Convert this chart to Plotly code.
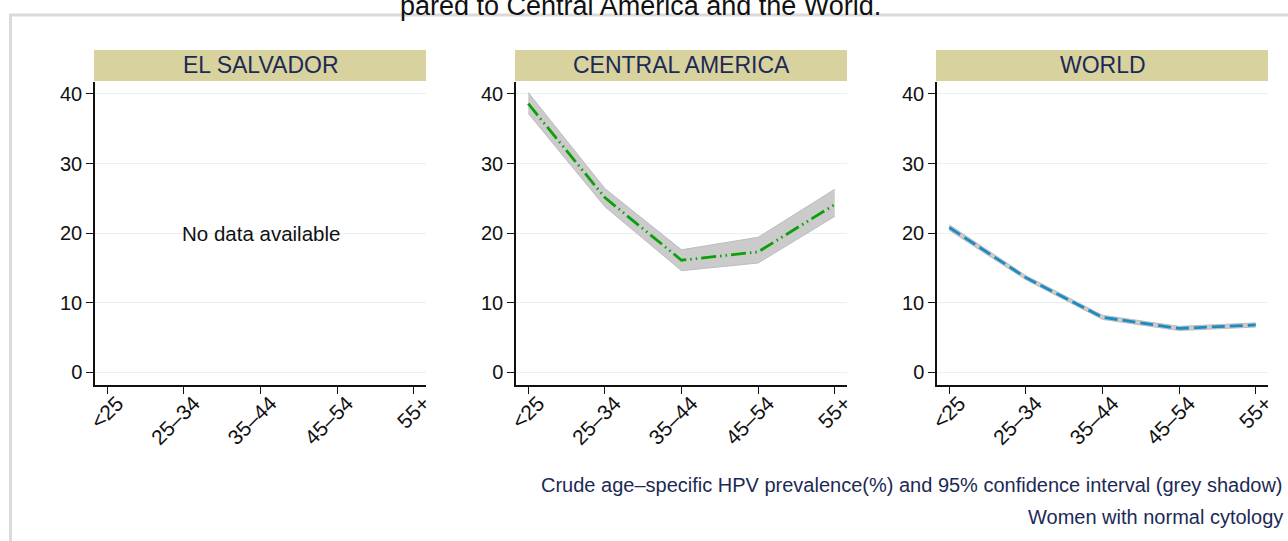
import plotly.graph_objects as go

W, H = 1288, 541

age_groups = ["<25", "25–34", "35–44", "45–54", "55+"]
x_pos = [0, 1, 2, 3, 4]

panel_titles = ["EL SALVADOR", "CENTRAL AMERICA", "WORLD"]

el_salvador = [None, None, None, None, None]

central_america = [38.6, 25.1, 16.1, 17.3, 24.1]
central_america_lo = [37.2, 23.8, 14.6, 15.7, 22.4]
central_america_hi = [40.2, 26.4, 17.6, 19.4, 26.3]

world = [20.8, 13.6, 7.9, 6.3, 6.8]
world_lo = [20.4, 13.3, 7.6, 6.0, 6.5]
world_hi = [21.2, 13.9, 8.2, 6.6, 7.1]

y_ticks = [0, 10, 20, 30, 40]

footnote_1 = "Crude age–specific HPV prevalence(%) and 95% confidence interval (grey shadow)"
footnote_2 = "Women with normal cytology"
title_text = "pared to Central America and the World."

FONT = "Liberation Sans, Arial, sans-serif"
NAVY = "#1c2a55"
HEADER = "#d8d29e"
GRID = "#e8f0f2"
BAND = "#cbcbcb"
BAND_EDGE = "#bdbdbd"


def px_x(p):
    return p / W


def px_y(p):
    return 1 - p / H


# panel pixel extents
panels_px = [(95, 426), (516, 847), (937, 1268)]
y_top_px, y_bot_px = 82, 385

fig = go.Figure()

# Panel 1 (empty)
fig.add_trace(go.Scatter(x=x_pos, y=el_salvador, mode="lines", xaxis="x", yaxis="y",
                         showlegend=False, hoverinfo="skip"))

# Panel 2 band + line
fig.add_trace(go.Scatter(x=x_pos, y=central_america_lo, mode="lines", xaxis="x2", yaxis="y2",
                         line=dict(color=BAND_EDGE, width=1), showlegend=False, hoverinfo="skip"))
fig.add_trace(go.Scatter(x=x_pos, y=central_america_hi, mode="lines", xaxis="x2", yaxis="y2",
                         fill="tonexty", fillcolor=BAND,
                         line=dict(color=BAND_EDGE, width=1), showlegend=False, hoverinfo="skip"))
fig.add_trace(go.Scatter(x=x_pos, y=central_america, mode="lines", xaxis="x2", yaxis="y2",
                         line=dict(color="#0aa00a", width=2.8, dash="15px,4px,1.5px,4px,1.5px,4px"),
                         showlegend=False))

# Panel 3 band + line
fig.add_trace(go.Scatter(x=x_pos, y=world_lo, mode="lines", xaxis="x3", yaxis="y3",
                         line=dict(color=BAND_EDGE, width=1), showlegend=False, hoverinfo="skip"))
fig.add_trace(go.Scatter(x=x_pos, y=world_hi, mode="lines", xaxis="x3", yaxis="y3",
                         fill="tonexty", fillcolor=BAND,
                         line=dict(color=BAND_EDGE, width=1), showlegend=False, hoverinfo="skip"))
fig.add_trace(go.Scatter(x=x_pos, y=world, mode="lines", xaxis="x3", yaxis="y3",
                         line=dict(color="#1a8cc4", width=2.8, dash="13px,5px"),
                         showlegend=False))

y_lo = -(y_bot_px - 372.3) / 6.96
y_hi = (372.3 - y_top_px) / 6.96

xtick_font = dict(family=FONT, size=21, color="#111111")
ytick_font = dict(family=FONT, size=20, color="#111111")

layout_axes = {}
for i, (x0, x1) in enumerate(panels_px):
    sfx = "" if i == 0 else str(i + 1)
    layout_axes["xaxis" + sfx] = dict(
        domain=[px_x(x0), px_x(x1)], range=[-0.16, 4.16], anchor="y" + sfx,
        tickmode="array", tickvals=x_pos, ticktext=age_groups, tickangle=-45,
        ticks="outside", ticklen=7, tickwidth=1.3, tickcolor="#111111",
        showline=True, linecolor="#111111", linewidth=1.5, showgrid=False,
        zeroline=False, tickfont=xtick_font, fixedrange=True, automargin=False,
        ticklabelshift=10, ticklabelstandoff=-11,
    )
    layout_axes["yaxis" + sfx] = dict(
        domain=[px_y(y_bot_px), px_y(y_top_px)], range=[y_lo, y_hi], anchor="x" + sfx,
        tickmode="array", tickvals=y_ticks, ticks="outside", ticklen=7, tickwidth=1.3,
        tickcolor="#111111", showline=True, linecolor="#111111", linewidth=1.5,
        showgrid=True, gridcolor=GRID, gridwidth=1, zeroline=False, tickfont=ytick_font,
        fixedrange=True, automargin=False,
    )

shapes = [
    # outer frame
    dict(type="rect", xref="paper", yref="paper", x0=px_x(10.5), x1=px_x(1300),
         y0=px_y(560), y1=px_y(15), line=dict(color="#dadada", width=3), fillcolor="rgba(0,0,0,0)",
         layer="below"),
]
annotations = []
for (x0, x1), t in zip(panels_px, panel_titles):
    shapes.append(dict(type="rect", xref="paper", yref="paper", x0=px_x(x0 - 1), x1=px_x(x1),
                       y0=px_y(81), y1=px_y(50), line=dict(width=0), fillcolor=HEADER))
    annotations.append(dict(text=t, xref="paper", yref="paper", x=px_x((x0 + x1) / 2),
                            y=px_y(65.5), xanchor="center", yanchor="middle", showarrow=False,
                            font=dict(family=FONT, size=23, color=NAVY)))

annotations.append(dict(text="No data available", xref="x", yref="y", x=2, y=20,
                        xanchor="center", yanchor="middle", showarrow=False,
                        font=dict(family=FONT, size=20.5, color="#111111")))
annotations.append(dict(text=footnote_1, xref="paper", yref="paper", x=px_x(1285), y=px_y(485),
                        xanchor="right", yanchor="middle", showarrow=False,
                        font=dict(family=FONT, size=20, color=NAVY)))
annotations.append(dict(text=footnote_2, xref="paper", yref="paper", x=px_x(1285), y=px_y(517),
                        xanchor="right", yanchor="middle", showarrow=False,
                        font=dict(family=FONT, size=20, color=NAVY)))
annotations.append(dict(text=title_text, xref="paper", yref="paper", x=px_x(640), y=px_y(6),
                        xanchor="center", yanchor="middle", showarrow=False,
                        font=dict(family=FONT, size=27, color="#111111")))

fig.update_layout(
    width=W, height=H, margin=dict(l=0, r=0, t=0, b=0, autoexpand=False),
    paper_bgcolor="white", plot_bgcolor="white",
    shapes=shapes, annotations=annotations, showlegend=False,
    **layout_axes,
)

fig.write_html(
    "out.html",
    config={"displayModeBar": False},
    post_script="document.body.style.margin='0';document.body.style.overflow='hidden';",
)
